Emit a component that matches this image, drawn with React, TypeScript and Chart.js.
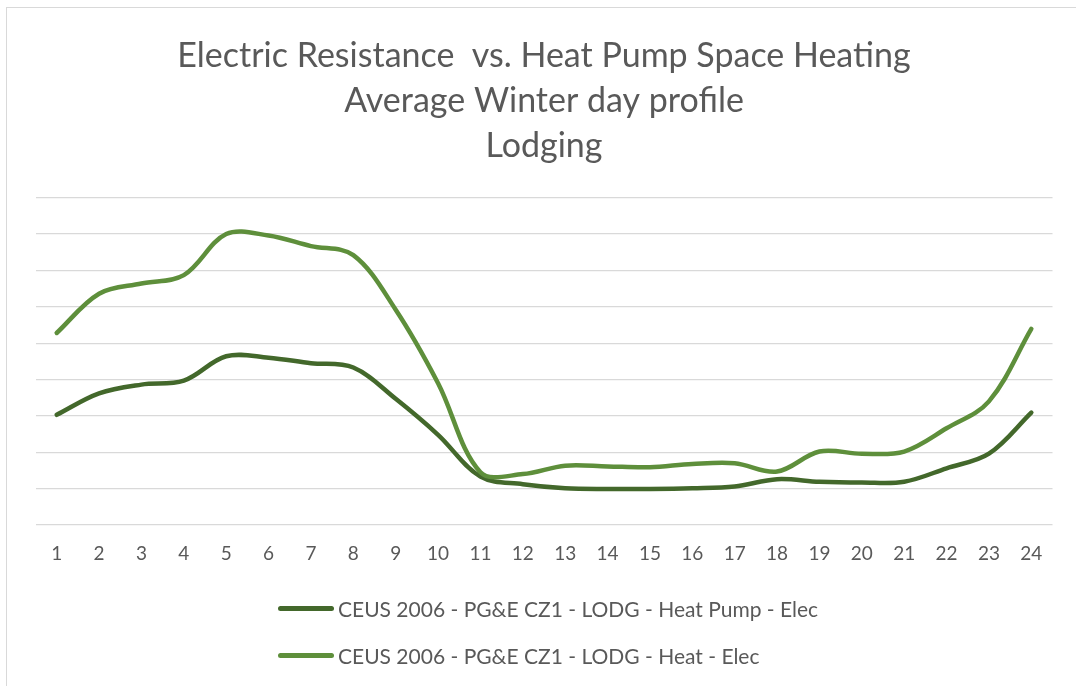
import React, { useEffect, useRef } from "react";
import { Chart, registerables } from "chart.js";

Chart.register(...registerables);

const hours = ["1","2","3","4","5","6","7","8","9","10","11","12","13","14","15","16","17","18","19","20","21","22","23","24"];
const heatPump = [3.03, 3.62, 3.86, 3.97, 4.64, 4.60, 4.45, 4.33, 3.47, 2.48, 1.33, 1.12, 1.01, 0.99, 0.99, 1.01, 1.06, 1.26, 1.19, 1.17, 1.19, 1.56, 1.96, 3.09];
const heatResist = [5.28, 6.36, 6.64, 6.87, 8.00, 7.96, 7.67, 7.42, 5.92, 3.90, 1.45, 1.40, 1.63, 1.61, 1.59, 1.68, 1.70, 1.47, 2.02, 1.96, 2.02, 2.66, 3.40, 5.39];
const seriesNames = [
  "CEUS 2006 - PG&E CZ1 - LODG - Heat Pump - Elec",
  "CEUS 2006 - PG&E CZ1 - LODG - Heat - Elec",
];
const titleLines = [
  "Electric Resistance  vs. Heat Pump Space Heating",
  "Average Winter day profile",
  "Lodging",
];
const seriesColors = ["#43682B", "#5E8F3B"];

const FONT = "Lato, 'Open Sans', sans-serif";
const TEXT = "#595959";

export default function App() {
  const ref = useRef<HTMLCanvasElement | null>(null);

  useEffect(() => {
    document.body.style.margin = "0";
    const chart = new Chart(ref.current!, {
      type: "line",
      data: {
        labels: hours,
        datasets: [
          {
            label: seriesNames[0],
            data: heatPump,
            borderColor: seriesColors[0],
            backgroundColor: seriesColors[0],
            borderWidth: 4.5,
            pointRadius: 0,
            tension: 0.35,
            borderCapStyle: "round",
            borderJoinStyle: "round",
            order: 1,
          },
          {
            label: seriesNames[1],
            data: heatResist,
            borderColor: seriesColors[1],
            backgroundColor: seriesColors[1],
            borderWidth: 4.5,
            pointRadius: 0,
            tension: 0.35,
            borderCapStyle: "round",
            borderJoinStyle: "round",
            order: 0,
          },
        ],
      },
      options: {
        responsive: false,
        animation: false,
        devicePixelRatio: 1,
        layout: { padding: { top: 33.5, left: 35.5, right: 23.5, bottom: 111 } },
        plugins: {
          legend: { display: false },
          tooltip: { enabled: false },
          title: {
            display: true,
            text: titleLines,
            color: TEXT,
            font: { family: FONT, size: 34, weight: "normal", lineHeight: "45px" },
            padding: { top: 0, bottom: 29.2 },
          },
        },
        scales: {
          x: {
            offset: true,
            grid: { display: false, drawTicks: false },
            border: { display: false },
            ticks: { color: TEXT, font: { family: FONT, size: 19 }, padding: 17, maxRotation: 0, autoSkip: false },
            afterFit: (s: any) => { s.height = 50; },
          },
          y: {
            min: 0,
            max: 9,
            grid: { color: "#d9d9d9", lineWidth: 1.3, drawTicks: false },
            border: { display: false },
            ticks: { display: false, stepSize: 1 },
            afterFit: (s: any) => { s.width = 0; },
          },
        },
      },
    });
    return () => chart.destroy();
  }, []);

  return (
    <div style={{ position: "fixed", left: 0, top: 0, width: 1076, height: 686, background: "#fff", overflow: "hidden" }}>
      <div style={{ position: "absolute", left: 6, top: 7, width: 1200, height: 900, borderLeft: "1.5px solid #d9d9d9", borderTop: "1.5px solid #d9d9d9" }} />
      <canvas ref={ref} width={1076} height={686} style={{ position: "absolute", left: 0, top: 0 }} />
      <div style={{ position: "absolute", left: 278, top: 0, fontFamily: FONT, fontSize: 21, color: TEXT }}>
        {seriesNames.map((n, i) => (
          <div key={n} style={{ position: "absolute", left: 0, top: [608, 655][i] - 14, height: 28, display: "flex", alignItems: "center", whiteSpace: "nowrap" }}>
            <span style={{ display: "inline-block", width: 56, height: 5, borderRadius: 3, background: seriesColors[i], marginRight: 4 }} />
            <span>{n}</span>
          </div>
        ))}
      </div>
    </div>
  );
}
